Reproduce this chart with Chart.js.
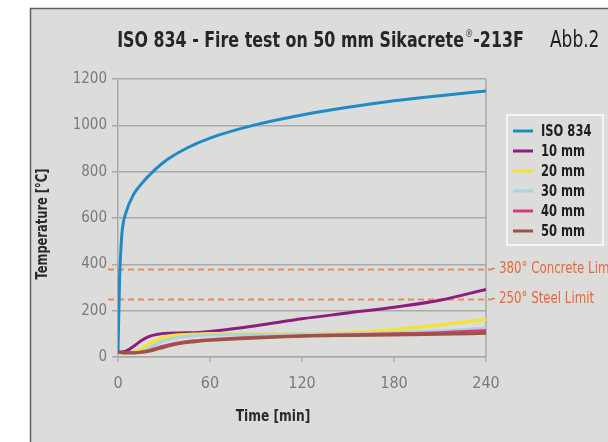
<!DOCTYPE html>
<html>
<head>
<meta charset="utf-8">
<script src="https://cdn.jsdelivr.net/npm/chart.js@4.4.1/dist/chart.umd.min.js"></script>
<style>
  html, body { margin: 0; padding: 0; background: #ffffff; }
  #chart { display: block; }
</style>
</head>
<body>
<canvas id="chart" width="608" height="442"></canvas>
<script>
const NARROW = '"Liberation Sans Narrow", "DejaVu Sans Condensed", "Liberation Sans", sans-serif';

// time axis (minutes)
const isoTimes = [0, 1, 2, 3, 5, 10, 15, 20, 30, 45, 60, 90, 120, 150, 180, 210, 240];
const sampleTimes = [0, 5, 10, 15, 20, 25, 30, 40, 50, 60, 90, 120, 150, 180, 210, 240];

// temperatures (°C)
const iso834 = [20, 330, 480, 560, 620, 700, 745, 782, 842, 902, 945, 1003, 1045, 1078, 1106, 1128, 1148];
const depth10 = [20, 25, 45, 70, 88, 97, 102, 104, 105, 110, 135, 165, 190, 215, 245, 292];
const depth20 = [20, 15, 20, 35, 55, 72, 85, 95, 98, 100, 100, 100, 105, 118, 138, 162];
const depth30 = [20, 15, 15, 22, 38, 55, 70, 85, 92, 95, 97, 98, 100, 105, 112, 125];
const depth40 = [20, 18, 18, 22, 28, 38, 48, 62, 70, 75, 85, 92, 96, 100, 105, 114];
const depth50 = [20, 18, 18, 20, 25, 33, 42, 58, 66, 72, 82, 90, 93, 95, 98, 102];

const seriesLabels = ['ISO 834', '10 mm', '20 mm', '30 mm', '40 mm', '50 mm'];
const seriesColors = ['#1f8ac3', '#8e1d7f', '#f3e23c', '#a8d4e4', '#d63a7a', '#9c5340'];

const limitValues = [380, 250];
const limitLabels = ['380° Concrete Limit', '250° Steel Limit'];

const xTicks = [0, 60, 120, 180, 240];
const yTicks = [0, 200, 400, 600, 800, 1000, 1200];

function toPoints(times, values) {
  return values.map((v, i) => ({ x: times[i], y: v }));
}

const seriesData = [
  toPoints(isoTimes, iso834),
  toPoints(sampleTimes, depth10),
  toPoints(sampleTimes, depth20),
  toPoints(sampleTimes, depth30),
  toPoints(sampleTimes, depth40),
  toPoints(sampleTimes, depth50),
];

// draw order: thin lines first, ISO and 10 mm on top
const drawOrder = [5, 4, 3, 2, 1, 0];

const datasets = seriesLabels.map((label, i) => ({
  label,
  data: seriesData[i],
  borderColor: seriesColors[i],
  borderWidth: i === 2 ? 3.5 : 3,
  pointRadius: 0,
  fill: false,
  cubicInterpolationMode: 'monotone',
  order: drawOrder[i],
}));

// the source uses a condensed face, so squeeze text horizontally
function narrowText(ctx, text, x, y, font, squeeze, align) {
  ctx.save();
  ctx.font = font;
  const w = ctx.measureText(text).width * squeeze;
  let left = x;
  if (align === 'center') left = x - w / 2;
  if (align === 'right') left = x - w;
  ctx.translate(left, y);
  ctx.scale(squeeze, 1);
  ctx.textAlign = 'left';
  ctx.fillText(text, 0, 0);
  ctx.restore();
  return w;
}

function textWidth(ctx, text, font, squeeze) {
  ctx.save();
  ctx.font = font;
  const w = ctx.measureText(text).width * squeeze;
  ctx.restore();
  return w;
}

const decor = {
  id: 'decor',
  beforeDraw(chart) {
    const ctx = chart.ctx;
    ctx.save();
    ctx.fillStyle = '#ffffff';
    ctx.fillRect(0, 0, chart.width, chart.height);
    ctx.fillStyle = '#dcdddb';
    ctx.fillRect(30, 8, chart.width - 30, chart.height - 8);
    ctx.strokeStyle = '#5e5e5e';
    ctx.lineWidth = 1.5;
    ctx.beginPath();
    ctx.moveTo(30.5, chart.height);
    ctx.lineTo(30.5, 8.5);
    ctx.lineTo(chart.width, 8.5);
    ctx.stroke();
    ctx.restore();
  },
  beforeDatasetsDraw(chart) {
    const ctx = chart.ctx;
    const area = chart.chartArea;
    const y = chart.scales.y;
    ctx.save();
    // right frame of plot
    ctx.strokeStyle = '#a9a9a7';
    ctx.lineWidth = 1.5;
    ctx.beginPath();
    ctx.moveTo(area.right, area.top);
    ctx.lineTo(area.right, area.bottom);
    ctx.stroke();
    // limit lines
    ctx.strokeStyle = '#e9895f';
    ctx.lineWidth = 2;
    ctx.setLineDash([6, 4]);
    limitValues.forEach((v) => {
      const py = Math.round(y.getPixelForValue(v)) + 0.5;
      ctx.beginPath();
      ctx.moveTo(area.left - 10, py);
      ctx.lineTo(area.right + 6, py);
      ctx.stroke();
    });
    ctx.restore();
  },
  afterDraw(chart) {
    const ctx = chart.ctx;
    const area = chart.chartArea;
    const y = chart.scales.y;
    ctx.save();
    ctx.textBaseline = 'alphabetic';

    // title with superscript
    const titleFont = 'bold 21px ' + NARROW;
    const regFont = 'bold 11px ' + NARROW;
    const sq = 0.84;
    const main = 'ISO 834 - Fire test on 50 mm Sikacrete';
    const tail = '-213F';
    const total = textWidth(ctx, main, titleFont, sq) + textWidth(ctx, '®', regFont, sq) + textWidth(ctx, tail, titleFont, sq);
    let tx = 320 - total / 2;
    ctx.fillStyle = '#262626';
    tx += narrowText(ctx, main, tx, 47, titleFont, sq);
    ctx.fillStyle = '#666666';
    tx += narrowText(ctx, '®', tx + 1, 37, regFont, sq) + 1;
    ctx.fillStyle = '#262626';
    narrowText(ctx, tail, tx, 47, titleFont, sq);

    ctx.fillStyle = '#1e1e1e';
    narrowText(ctx, 'Abb.2', 550, 47, '23px ' + NARROW, 0.82);

    // axis titles
    ctx.fillStyle = '#2a2a2a';
    ctx.textBaseline = 'middle';
    narrowText(ctx, 'Time [min]', 273, 417, 'bold 16px ' + NARROW, 0.85, 'center');
    ctx.save();
    ctx.translate(43, 224);
    ctx.rotate(-Math.PI / 2);
    narrowText(ctx, 'Temperature [°C]', 0, 0, 'bold 15px ' + NARROW, 0.85, 'center');
    ctx.restore();

    // limit labels
    ctx.fillStyle = '#e8663c';
    limitValues.forEach((v, i) => {
      const py = y.getPixelForValue(v);
      narrowText(ctx, '- ' + limitLabels[i], area.right + 5, py, '16px ' + NARROW, 0.82);
    });

    // legend box
    const bx = 507, by = 115, bw = 96, bh = 130;
    ctx.strokeStyle = '#f6f6f4';
    ctx.lineWidth = 2;
    ctx.strokeRect(bx, by, bw, bh);
    ctx.fillStyle = '#1e1e1e';
    seriesLabels.forEach((label, i) => {
      const ry = 131 + i * 20;
      ctx.strokeStyle = seriesColors[i];
      ctx.lineWidth = 3;
      ctx.beginPath();
      ctx.moveTo(513, ry);
      ctx.lineTo(533, ry);
      ctx.stroke();
      narrowText(ctx, label, 541, ry + 1, 'bold 16px ' + NARROW, 0.8);
    });

    ctx.restore();
  },
};

new Chart(document.getElementById('chart'), {
  type: 'line',
  data: { datasets },
  options: {
    responsive: false,
    animation: false,
    devicePixelRatio: 1,
    layout: { padding: { left: 0, top: 79, right: 122, bottom: 0 } },
    plugins: {
      legend: { display: false },
      tooltip: { enabled: false },
    },
    scales: {
      x: {
        type: 'linear',
        min: xTicks[0],
        max: xTicks[xTicks.length - 1],
        afterBuildTicks(scale) {
          scale.ticks = xTicks.map((v) => ({ value: v }));
        },
        afterFit(scale) { scale.height = 85; },
        grid: { drawOnChartArea: false, tickLength: 5, color: '#b3b3b1', lineWidth: 1.5 },
        border: { display: true, color: '#a9a9a7', width: 1.5 },
        ticks: {
          color: '#7a7a7a',
          padding: 12,
          font: { family: NARROW, size: 16 },
          callback: (v) => String(v),
        },
      },
      y: {
        min: yTicks[0],
        max: yTicks[yTicks.length - 1],
        afterBuildTicks(scale) {
          scale.ticks = yTicks.map((v) => ({ value: v }));
        },
        afterFit(scale) { scale.width = 118; },
        grid: { color: '#a9a9a7', lineWidth: 1.5, tickLength: 6 },
        border: { display: true, color: '#a9a9a7', width: 1.5 },
        ticks: {
          color: '#7a7a7a',
          padding: 5,
          font: { family: NARROW, size: 15 },
          callback: (v) => String(v),
        },
      },
    },
  },
  plugins: [decor],
});
</script>
</body>
</html>
